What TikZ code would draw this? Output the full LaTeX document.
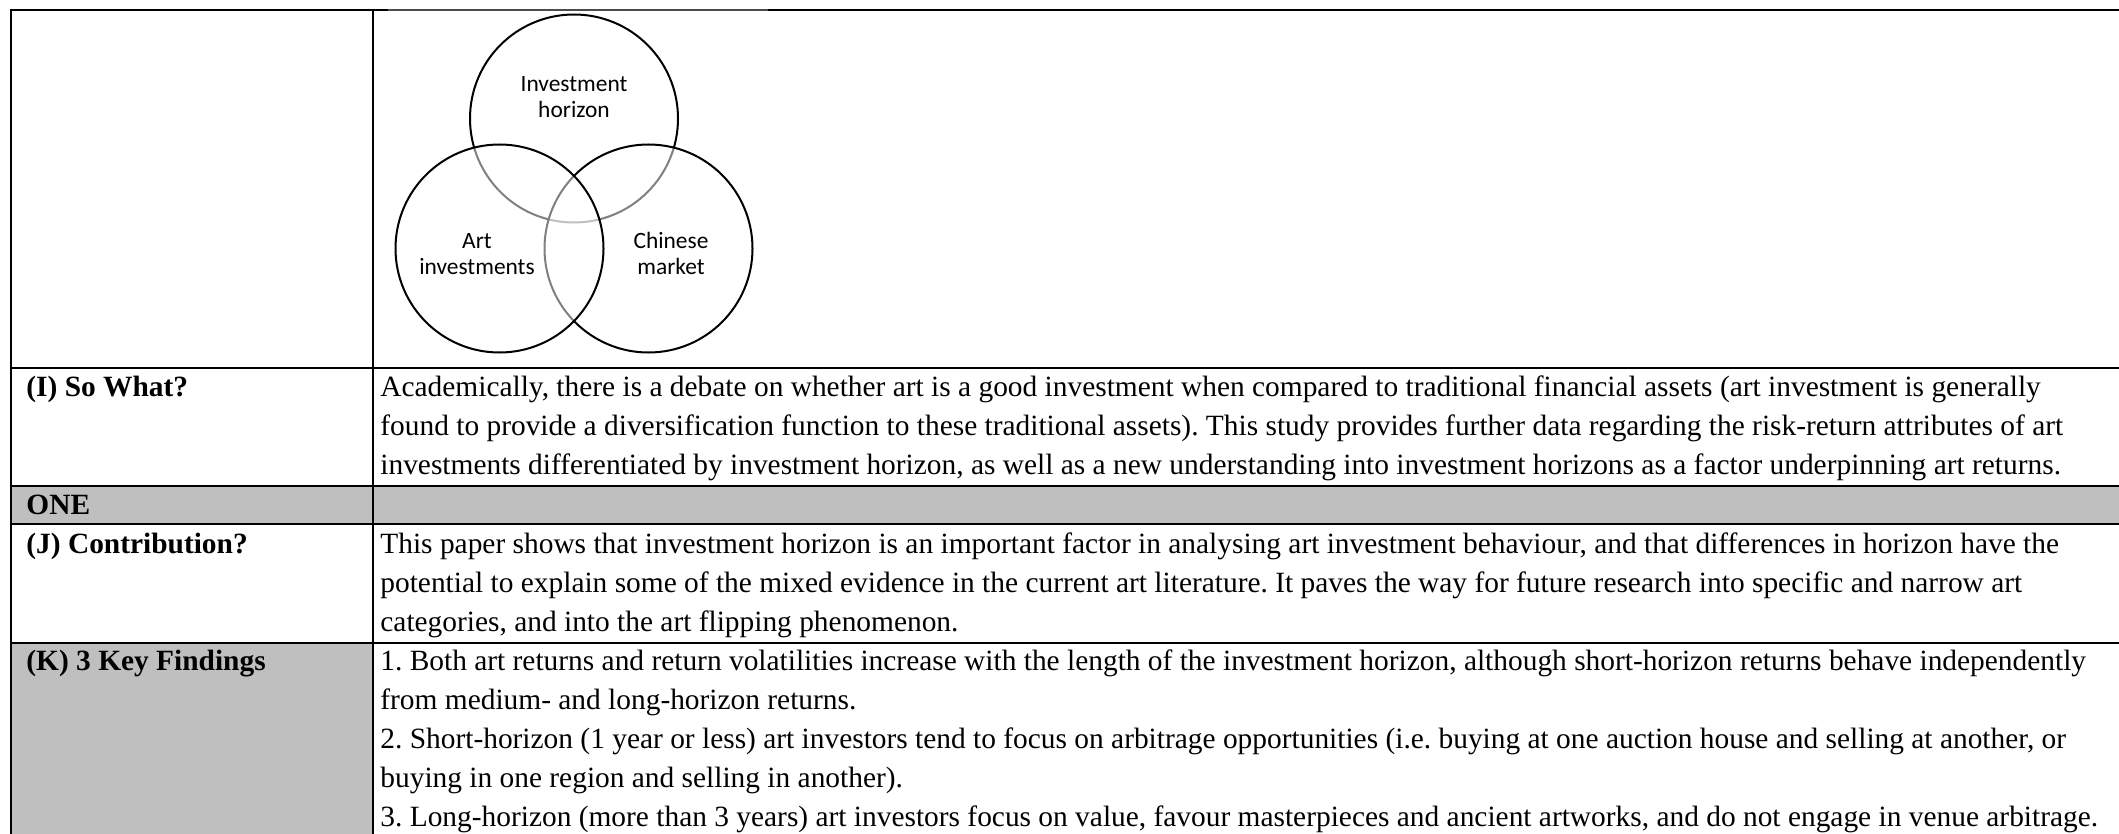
\documentclass[tikz,border=0pt]{standalone}
\usepackage{fontspec}
\setmainfont{Liberation Serif}
\newfontfamily\calibrifont{Carlito}
\definecolor{cellgray}{RGB}{191,191,191}
\frenchspacing
\begin{document}
\begin{tikzpicture}[x=0.5pt,y=-0.5pt,
  rule/.style={line width=1.35pt},
  txt/.style={anchor=base west, inner sep=0pt, font=\fontsize{14.7}{17}\selectfont},
  lbl/.style={anchor=base west, inner sep=0pt, font=\fontsize{14.7}{17}\selectfont\bfseries},
  venncirc/.style={circle, draw=black, line width=1pt, minimum size=104pt, inner sep=0pt},
  vtxt/.style={anchor=base, inner sep=0pt, font=\calibrifont\fontsize{11.7}{13.5}\selectfont}]
\useasboundingbox (0,0) rectangle (2119,834);
\fill[white] (0,0) rectangle (2119,834);
% shaded cells
\fill[cellgray] (11,486) rectangle (2119,524);
\fill[cellgray] (11,643) rectangle (373,834);
% table rules
\draw[rule] (10,10) -- (388,10);
\draw[rule] (768,10) -- (2119,10);
\draw[black!70, line width=0.6pt] (388,10) -- (768,10);
\draw[rule] (11,9) -- (11,834);
\draw[rule] (373,9) -- (373,834);
\draw[rule] (10,368) -- (2119,368);
\draw[rule] (10,486) -- (2119,486);
\draw[rule] (10,524) -- (2119,524);
\draw[rule] (10,643) -- (2119,643);
% Venn diagram
\node[venncirc] (ih) at (574,118.5) {};
\node[venncirc, fill=white, fill opacity=0.5] (cm) at (648.5,248.5) {};
\node[venncirc, fill=white, fill opacity=0.5] (ai) at (499.5,248.5) {};
\node[vtxt] (ih1) at (574,91.5) {Investment};
\node[vtxt] (ih2) at (574,118) {horizon};
\node[vtxt] (ai1) at (477,249) {Art};
\node[vtxt] (ai2) at (477,274) {investments};
\node[vtxt] (cm1) at (671,249) {Chinese};
\node[vtxt] (cm2) at (671,274) {market};
% left labels
\node[lbl] (li) at (26,396) {(I) So What?};
\node[lbl] (lone) at (26,514) {ONE};
\node[lbl] (lj) at (26,553) {(J) Contribution?};
\node[lbl] (lk) at (26,670) {(K) 3 Key Findings};
% row I
\node[txt] (i1) at (380,396) {Academically, there is a debate on whether art is a good investment when compared to traditional financial assets (art investment is generally};
\node[txt] (i2) at (380,435) {found to provide a diversification function to these traditional assets). This study provides further data regarding the risk-return attributes of art};
\node[txt] (i3) at (380,474) {investments differentiated by investment horizon, as well as a new understanding into investment horizons as a factor underpinning art returns.};
% row J
\node[txt] (j1) at (380,553) {This paper shows that investment horizon is an important factor in analysing art investment behaviour, and that differences in horizon have the};
\node[txt] (j2) at (380,592) {potential to explain some of the mixed evidence in the current art literature. It paves the way for future research into specific and narrow art};
\node[txt] (j3) at (380,631) {categories, and into the art flipping phenomenon.};
% row K
\node[txt] (k1) at (380,670) {1. Both art returns and return volatilities increase with the length of the investment horizon, although short-horizon returns behave independently};
\node[txt] (k2) at (380,709) {from medium- and long-horizon returns.};
\node[txt] (k3) at (380,748) {2. Short-horizon (1 year or less) art investors tend to focus on arbitrage opportunities (i.e. buying at one auction house and selling at another, or};
\node[txt] (k4) at (380,787) {buying in one region and selling in another).};
\node[txt] (k5) at (380,826) {3. Long-horizon (more than 3 years) art investors focus on value, favour masterpieces and ancient artworks, and do not engage in venue arbitrage.};
\end{tikzpicture}
\end{document}
